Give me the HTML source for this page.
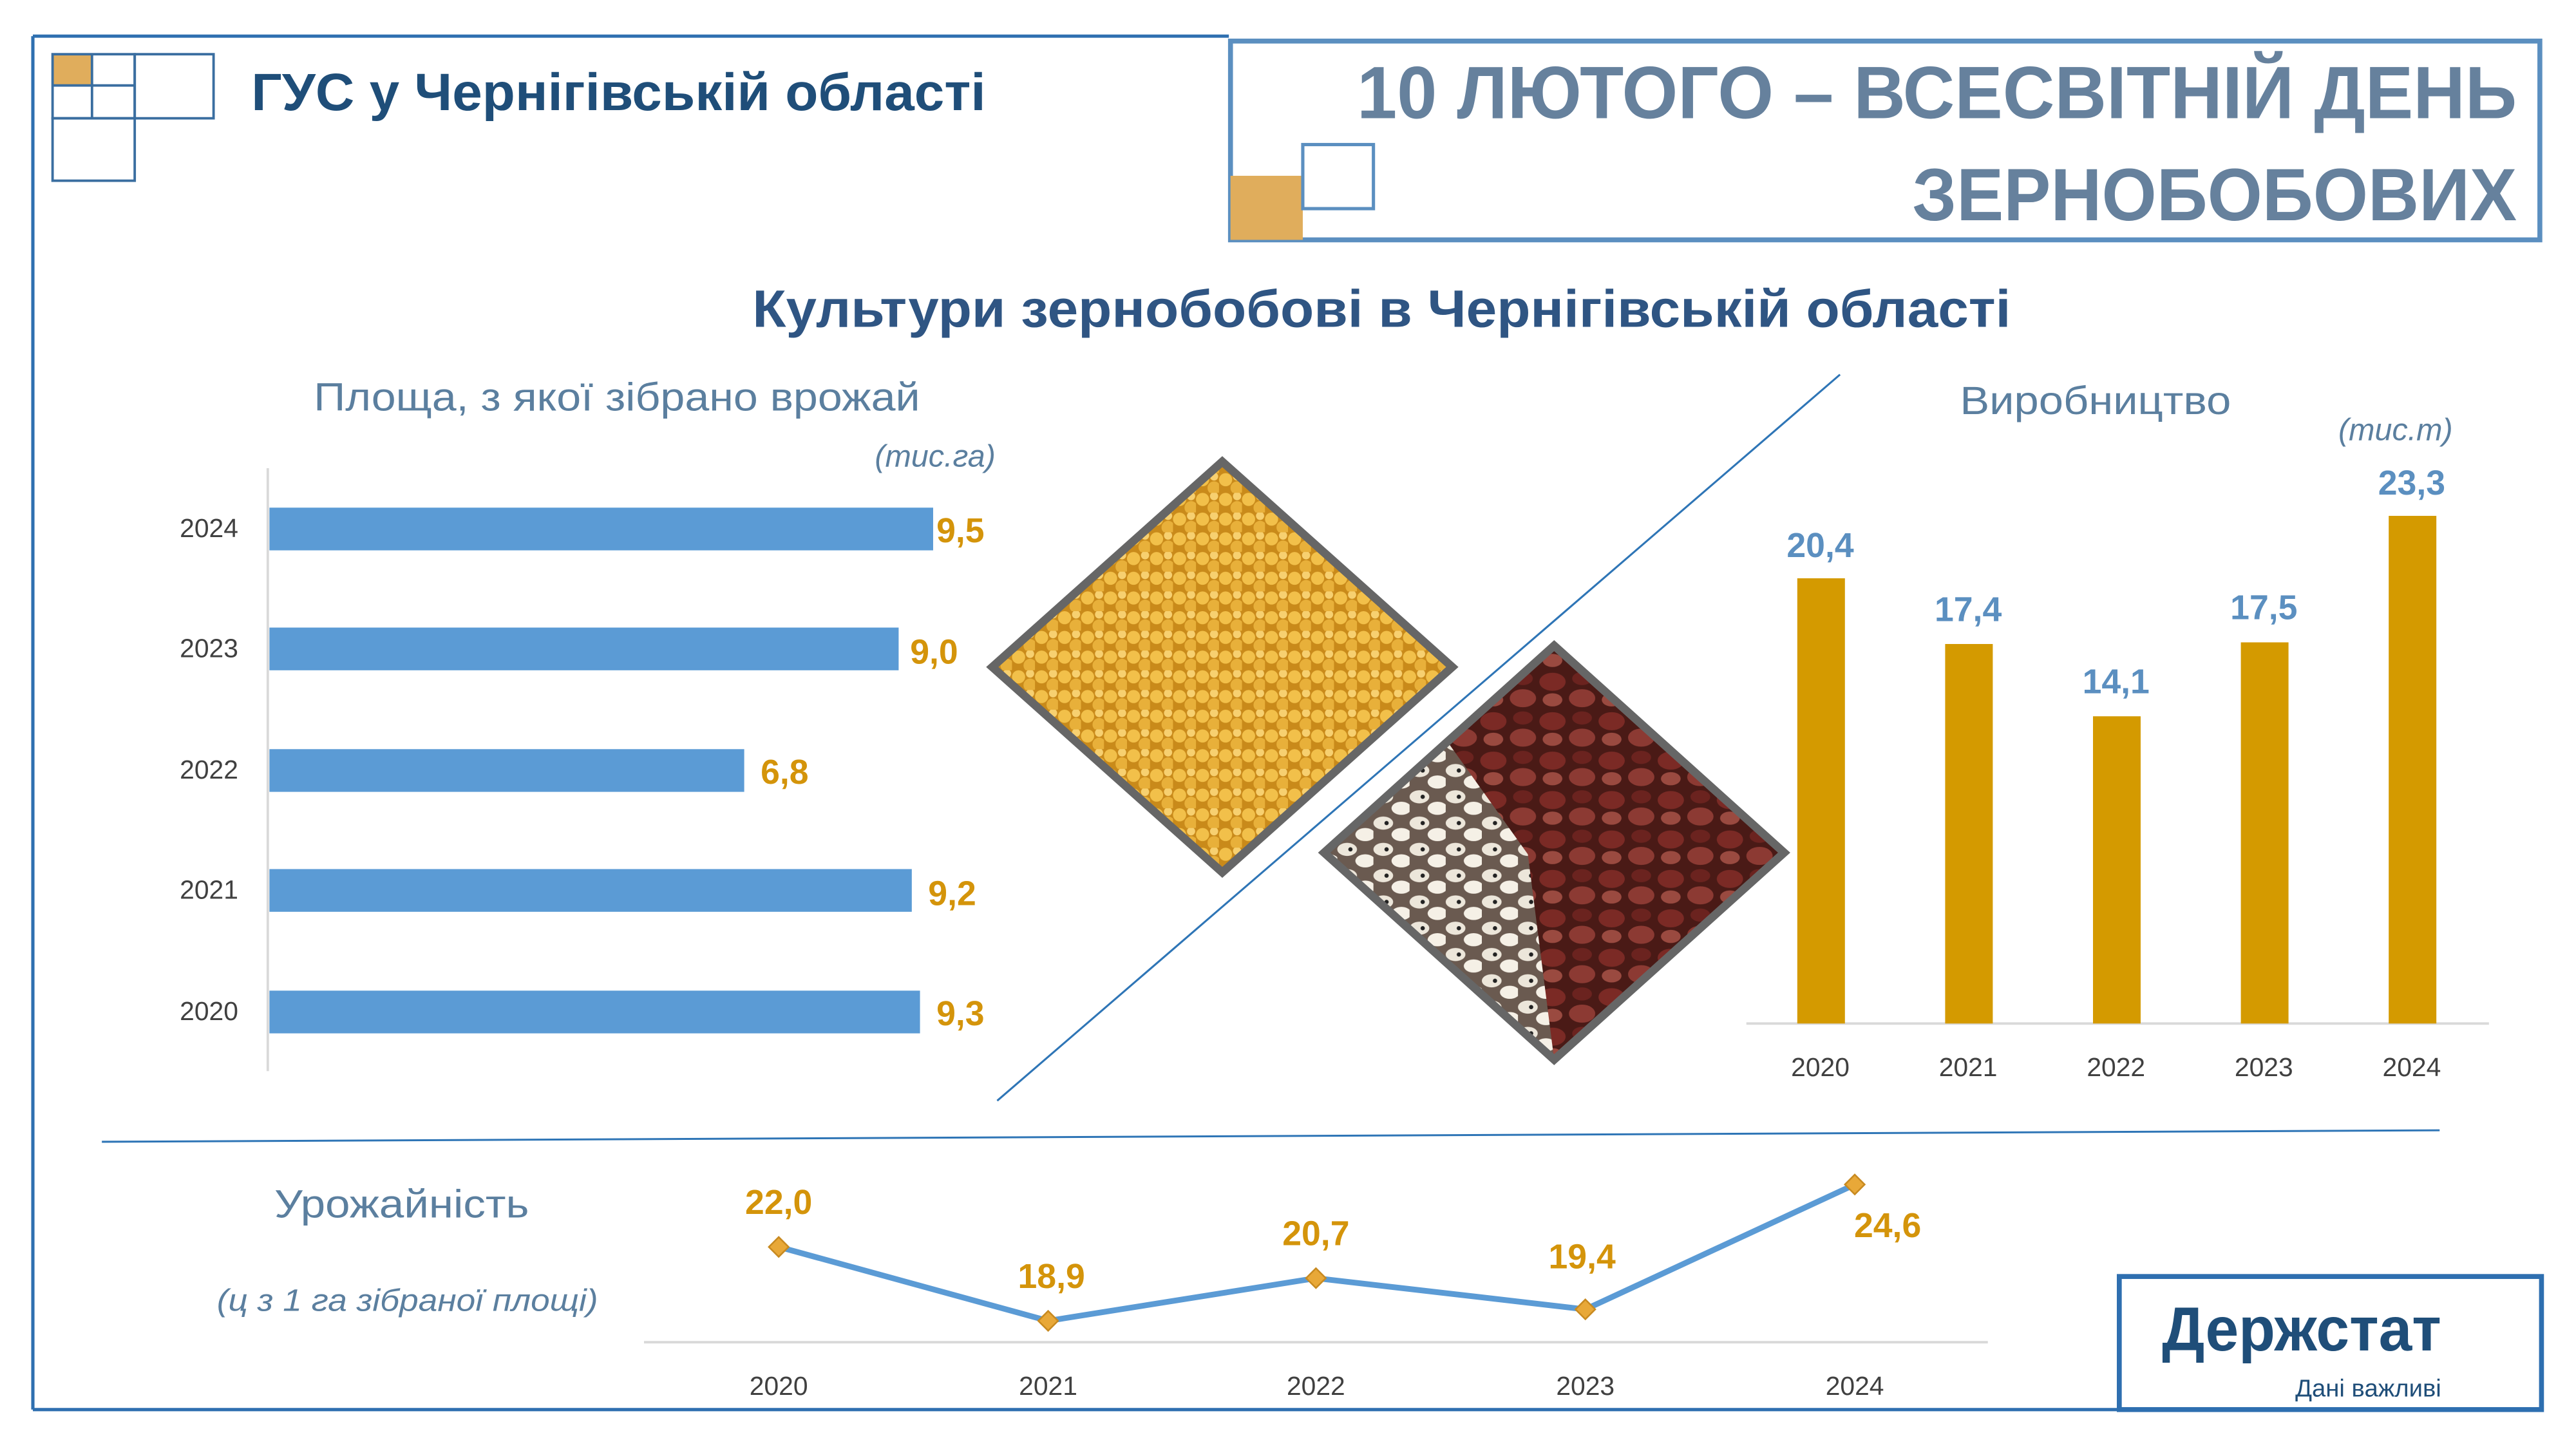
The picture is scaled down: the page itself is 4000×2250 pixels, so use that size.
<!DOCTYPE html>
<html><head><meta charset="utf-8"><style>html,body{margin:0;padding:0;background:#fff}svg{display:block}</style></head><body>
<svg width="4000" height="2250" viewBox="0 0 1568 882" xmlns="http://www.w3.org/2000/svg" font-family="'Liberation Sans', sans-serif">
<defs>
<pattern id="pea" width="14" height="12" patternUnits="userSpaceOnUse">
<rect width="14" height="12" fill="#c98a1a"/>
<circle cx="4" cy="4" r="4" fill="#f2c04a"/><circle cx="11" cy="9" r="4" fill="#e8b03a"/><circle cx="11" cy="2" r="2.5" fill="#f7d070"/>
</pattern>
<pattern id="bean" width="36" height="24" patternUnits="userSpaceOnUse">
<rect width="36" height="24" fill="#4a1a16"/>
<ellipse cx="9" cy="7" rx="8" ry="5.5" fill="#7b2a25"/><ellipse cx="27" cy="17" rx="8" ry="5.5" fill="#8c3a33"/><ellipse cx="27" cy="5" rx="6" ry="4" fill="#6b231f"/><ellipse cx="9" cy="18" rx="6" ry="4" fill="#9a4a40"/>
</pattern>
<pattern id="white" width="22" height="16" patternUnits="userSpaceOnUse">
<rect width="22" height="16" fill="#6a5a50"/>
<ellipse cx="6" cy="5" rx="6" ry="4" fill="#ece6da"/><ellipse cx="17" cy="12" rx="6" ry="4" fill="#f5f0e6"/><circle cx="8" cy="5" r="1.3" fill="#222"/>
</pattern>
<clipPath id="bc"><polygon points="946,393 1086,519 946,645 806,519"/></clipPath>
</defs>
<g fill="none" stroke="#2e6fb0" stroke-width="2">
<line x1="20" y1="22" x2="748" y2="22"/><line x1="20" y1="22" x2="20" y2="858"/><line x1="20" y1="858" x2="1290" y2="858"/>
</g>
<rect x="749" y="25" width="797" height="121" fill="none" stroke="#5b8fc0" stroke-width="3"/>
<rect x="1290" y="777" width="257" height="81" fill="#fff" stroke="#2e6fb0" stroke-width="3"/>
<rect x="32" y="33" width="24" height="19" fill="#e0ad5c"/>
<g fill="none" stroke="#3a6ea0" stroke-width="1.5">
<rect x="32" y="33" width="50" height="39"/><line x1="56" y1="33" x2="56" y2="72"/><line x1="32" y1="52" x2="82" y2="52"/>
<rect x="82" y="33" width="48" height="39"/><rect x="32" y="72" width="50" height="38"/>
</g>
<text x="153" y="67" font-size="32" font-weight="bold" fill="#1f4e79" textLength="447" lengthAdjust="spacingAndGlyphs">ГУС у Чернігівській області</text>
<rect x="749" y="107" width="44" height="39" fill="#e0ad5c"/>
<rect x="793" y="88" width="43" height="39" fill="#fff" stroke="#5b8fc0" stroke-width="2"/>
<text x="826" y="72" font-size="45" font-weight="bold" fill="#66819d" textLength="706" lengthAdjust="spacingAndGlyphs">10 ЛЮТОГО – ВСЕСВІТНІЙ ДЕНЬ</text>
<text x="1164" y="134" font-size="45" font-weight="bold" fill="#66819d" textLength="368" lengthAdjust="spacingAndGlyphs">ЗЕРНОБОБОВИХ</text>
<text x="458" y="199" font-size="32" font-weight="bold" fill="#2f5583" textLength="766" lengthAdjust="spacingAndGlyphs">Культури зернобобові в Чернігівській області</text>
<text x="191" y="250" font-size="24" fill="#5b7f9f" textLength="369" lengthAdjust="spacingAndGlyphs">Площа, з якої зібрано врожай</text>
<text x="606" y="284" font-size="19" font-style="italic" fill="#5b7f9f" text-anchor="end">(тис.га)</text>
<line x1="163" y1="285" x2="163" y2="652" stroke="#d9d9d9" stroke-width="1.5"/>
<g fill="#5b9bd5">
<rect x="164" y="309" width="404" height="26"/><rect x="164" y="382" width="383" height="26"/><rect x="164" y="456" width="289" height="26"/><rect x="164" y="529" width="391" height="26"/><rect x="164" y="603" width="396" height="26"/>
</g>
<g font-size="16" fill="#404040" text-anchor="end">
<text x="145" y="327">2024</text><text x="145" y="400">2023</text><text x="145" y="474">2022</text><text x="145" y="547">2021</text><text x="145" y="621">2020</text>
</g>
<g font-size="21" font-weight="bold" fill="#d4940a">
<text x="570" y="330">9,5</text><text x="554" y="404">9,0</text><text x="463" y="477">6,8</text><text x="565" y="551">9,2</text><text x="570" y="624">9,3</text>
</g>
<polygon points="744,281 884,406 744,531 604,406" fill="url(#pea)" stroke="#666" stroke-width="5"/>
<g clip-path="url(#bc)"><rect x="800" y="390" width="290" height="260" fill="url(#bean)"/><polygon points="806,519 946,645 930,520 880,450" fill="url(#white)"/></g>
<polygon points="946,393 1086,519 946,645 806,519" fill="none" stroke="#666" stroke-width="5"/>
<line x1="607" y1="670" x2="1120" y2="228" stroke="#2e75b6" stroke-width="1.2"/>
<text x="1193" y="252" font-size="24" fill="#5b7f9f" textLength="165" lengthAdjust="spacingAndGlyphs">Виробництво</text>
<text x="1493" y="268" font-size="19" font-style="italic" fill="#5b7f9f" text-anchor="end">(тис.т)</text>
<line x1="1063" y1="623" x2="1515" y2="623" stroke="#d9d9d9" stroke-width="1.5"/>
<g fill="#d49a00">
<rect x="1094" y="352" width="29" height="271"/><rect x="1184" y="392" width="29" height="231"/><rect x="1274" y="436" width="29" height="187"/><rect x="1364" y="391" width="29" height="232"/><rect x="1454" y="314" width="29" height="309"/>
</g>
<g font-size="21" font-weight="bold" fill="#5b8fc0" text-anchor="middle">
<text x="1108" y="339">20,4</text><text x="1198" y="378">17,4</text><text x="1288" y="422">14,1</text><text x="1378" y="377">17,5</text><text x="1468" y="301">23,3</text>
</g>
<g font-size="16" fill="#404040" text-anchor="middle">
<text x="1108" y="655">2020</text><text x="1198" y="655">2021</text><text x="1288" y="655">2022</text><text x="1378" y="655">2023</text><text x="1468" y="655">2024</text>
</g>
<line x1="62" y1="695" x2="1485" y2="688" stroke="#2e75b6" stroke-width="1.2"/>
<text x="167" y="741" font-size="24" fill="#5b7f9f" textLength="155" lengthAdjust="spacingAndGlyphs">Урожайність</text>
<text x="132" y="798" font-size="19" font-style="italic" fill="#5b7f9f" textLength="232" lengthAdjust="spacingAndGlyphs">(ц з 1 га зібраної площі)</text>
<line x1="392" y1="817" x2="1210" y2="817" stroke="#d9d9d9" stroke-width="1.5"/>
<polyline points="474,759 638,804 801,778 965,797 1129,721" fill="none" stroke="#5b9bd5" stroke-width="3.5"/>
<g fill="#e8a838" stroke="#c88a20" stroke-width="1">
<polygon points="474,753 480,759 474,765 468,759"/><polygon points="638,798 644,804 638,810 632,804"/><polygon points="801,772 807,778 801,784 795,778"/><polygon points="965,791 971,797 965,803 959,797"/><polygon points="1129,715 1135,721 1129,727 1123,721"/>
</g>
<g font-size="21" font-weight="bold" fill="#d4940a" text-anchor="middle">
<text x="474" y="739">22,0</text><text x="640" y="784">18,9</text><text x="801" y="758">20,7</text><text x="963" y="772">19,4</text><text x="1149" y="753">24,6</text>
</g>
<g font-size="16" fill="#404040" text-anchor="middle">
<text x="474" y="849">2020</text><text x="638" y="849">2021</text><text x="801" y="849">2022</text><text x="965" y="849">2023</text><text x="1129" y="849">2024</text>
</g>
<text x="1316" y="822" font-size="38" font-weight="bold" fill="#1f4e79" textLength="170" lengthAdjust="spacingAndGlyphs">Держстат</text>
<text x="1486" y="850" font-size="15" fill="#1f4e79" text-anchor="end">Дані важливі</text>
</svg>
</body></html>
